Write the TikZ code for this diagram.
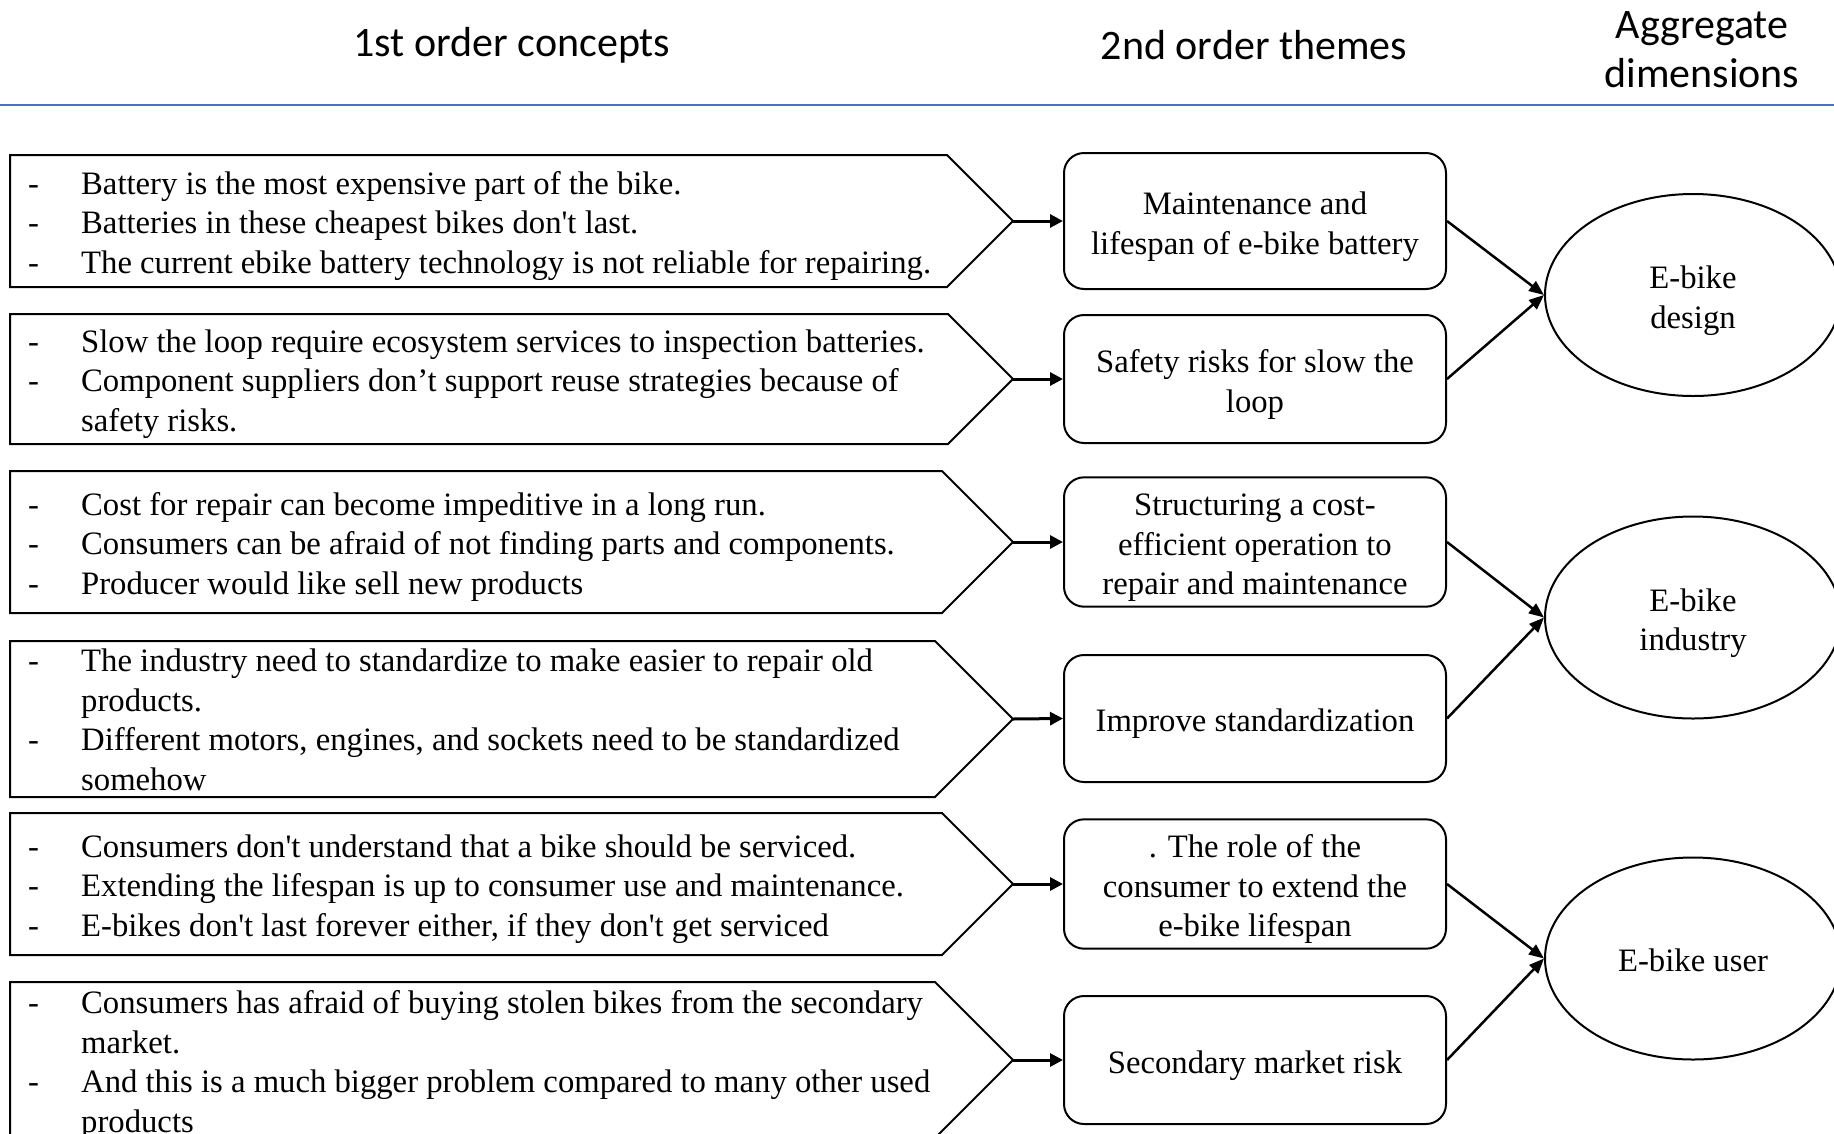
\documentclass[tikz,border=0pt]{standalone}
\usepackage{fontspec}
\setmainfont{Liberation Serif}[Ligatures=TeXOff]
\newfontfamily\headfont{Carlito}
\usetikzlibrary{arrows.meta,shapes.geometric}
\definecolor{rulecol}{HTML}{4472C4}
\newcommand\tbox[1]{\begin{tabular}{@{}c@{}}\rule{0pt}{38.5pt}#1\end{tabular}}
\newcommand\cbox[1]{\begin{tabular}{@{}p{53pt}@{}l@{}}#1\end{tabular}}
\begin{document}
\begin{tikzpicture}[x=1pt,y=-1pt,
  every node/.style={inner sep=0pt},
  txt/.style={font=\fontsize{32.7}{39.5}\selectfont},
  head/.style={font=\headfont\fontsize{42}{49}\selectfont, align=center},
  concept/.style={txt, anchor=west},
  pentagon/.style={draw, line width=2pt, line join=miter},
  theme/.style={txt, draw, line width=2pt, rounded corners=20pt, minimum width=382pt},
  dimension/.style={txt, draw, ellipse, line width=2pt, minimum width=296pt, minimum height=202pt},
  feed/.style={-{Triangle[length=13pt,width=13pt]}, line width=3pt},
  link/.style={-{Triangle[length=15pt,width=12pt]}, line width=2.5pt}
]
\useasboundingbox (0,0) rectangle (1834,1133);
\clip (0,0) rectangle (1834,1133);

% headers
\node[head] (h1) at (512,45) {1st order concepts};
\node[head] (h2) at (1254,45) {2nd order themes};
\node[head] (h3) at (1702,50) {Aggregate\\dimensions};
\draw[rulecol, line width=2pt] (0,105) coordinate (r0) -- (1834,105) coordinate (r1);

% first-order concept boxes
\draw[pentagon] (10,155) -- (947,155) -- (1013,221) coordinate (p1) -- (947,287) -- (10,287) -- cycle;
\draw[pentagon] (10,314) -- (948,314) -- (1013,379) coordinate (p2) -- (948,444) -- (10,444) -- cycle;
\draw[pentagon] (10,471) -- (942,471) -- (1013,542) coordinate (p3) -- (942,613) -- (10,613) -- cycle;
\draw[pentagon] (10,641) -- (935,641) -- (1013,719) coordinate (p4) -- (935,797) -- (10,797) -- cycle;
\draw[pentagon] (10,813) -- (942,813) -- (1013,884) coordinate (p5) -- (942,955) -- (10,955) -- cycle;
\draw[pentagon] (10,982) -- (935,982) -- (1013,1060) coordinate (p6) -- (935,1138) -- (10,1138) -- cycle;

\node[concept] (c1) at (28,226) {\cbox{
-& Battery is the most expensive part of the bike.\\
-& Batteries in these cheapest bikes don't last.\\
-& The current ebike battery technology is not reliable for repairing.}};
\node[concept] (c2) at (28,384) {\cbox{
-& Slow the loop require ecosystem services to inspection batteries.\\
-& Component suppliers don’t support reuse strategies because of\\
 & safety risks.}};
\node[concept] (c3) at (28,547) {\cbox{
-& Cost for repair can become impeditive in a long run.\\
-& Consumers can be afraid of not finding parts and components.\\
-& Producer would like sell new products}};
\node[concept] (c4) at (28,723) {\cbox{
-& The industry need to standardize to make easier to repair old\\
 & products.\\
-& Different motors, engines, and sockets need to be standardized\\
 & somehow}};
\node[concept] (c5) at (28,889) {\cbox{
-& Consumers don't understand that a bike should be serviced.\\
-& Extending the lifespan is up to consumer use and maintenance.\\
-& E-bikes don't last forever either, if they don't get serviced}};
\node[concept] (c6) at (28,1065) {\cbox{
-& Consumers has afraid of buying stolen bikes from the secondary\\
 & market.\\
-& And this is a much bigger problem compared to many other used\\
 & products}};

% second-order themes
\node[theme, minimum height=136pt] (tA) at (1255,221) {\tbox{Maintenance and\\lifespan of e-bike battery}};
\node[theme, minimum height=128pt] (tB) at (1255,379) {\tbox{Safety risks for slow the\\loop}};
\node[theme, minimum height=128pt] (tC) at (1255,542) {\tbox{Structuring a cost-\\efficient operation to\\repair and maintenance}};
\node[theme, minimum height=127pt] (tD) at (1255,718.5) {\tbox{Improve standardization}};
\node[theme, minimum height=126pt] (tE) at (1255,884) {\tbox{. The role of the\\consumer to extend the\\e-bike lifespan}};
\node[theme, minimum height=128pt] (tF) at (1255,1060) {\tbox{Secondary market risk}};

% aggregate dimensions
\node[dimension] (dA) at (1693,295) {\tbox{E-bike\\design}};
\node[dimension] (dB) at (1693,617.5) {\tbox{E-bike\\industry}};
\node[dimension] (dC) at (1693,958.5) {\tbox{E-bike user}};

% connectors
\draw[feed] (p1) -- (tA.west);
\draw[feed] (p2) -- (tB.west);
\draw[feed] (p3) -- (tC.west);
\draw[feed] (p4) -- (tD.west);
\draw[feed] (p5) -- (tE.west);
\draw[feed] (p6) -- (tF.west);

\draw[link] (tA.east) -- (dA.west);
\draw[link] (tB.east) -- (dA.west);
\draw[link] (tC.east) -- (dB.west);
\draw[link] (tD.east) -- (dB.west);
\draw[link] (tE.east) -- (dC.west);
\draw[link] (tF.east) -- (dC.west);
\end{tikzpicture}
\end{document}
